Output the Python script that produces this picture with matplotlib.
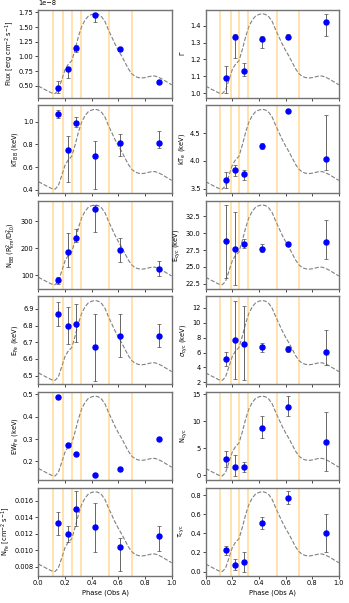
import numpy as np
import matplotlib
matplotlib.use("Agg")
import matplotlib.pyplot as plt

# phase bins (centres) and boundaries
phase = [0.15, 0.22, 0.285, 0.425, 0.615, 0.905]
bounds = [0.108, 0.187, 0.25, 0.32, 0.532, 0.702]

# normalised pulse profile (dashed reference curve)
lc_phase = [0.000, 0.025, 0.050, 0.075, 0.100, 0.125, 0.150, 0.175, 0.200, 0.225,
            0.250, 0.275, 0.300, 0.325, 0.350, 0.375, 0.400, 0.425, 0.450, 0.475,
            0.500, 0.525, 0.550, 0.575, 0.600, 0.625, 0.650, 0.675, 0.700, 0.725,
            0.750, 0.775, 0.800, 0.825, 0.850, 0.875, 0.900, 0.925, 0.950, 0.975, 1.000]
lc_rate = [0.094, 0.072, 0.050, 0.028, 0.008, 0.000, 0.045, 0.170, 0.300, 0.370,
           0.410, 0.550, 0.710, 0.840, 0.920, 0.970, 0.990, 1.000, 0.990, 0.960,
           0.900, 0.800, 0.710, 0.620, 0.540, 0.470, 0.390, 0.310, 0.250, 0.215,
           0.200, 0.195, 0.200, 0.210, 0.220, 0.220, 0.205, 0.185, 0.160, 0.135, 0.110]

# parameters: value, lower bound, upper bound
flux = [0.47e-8, 0.79e-8, 1.145e-8, 1.70e-8, 1.12e-8, 0.57e-8]
flux_lo = [0.375e-8, 0.63e-8, 1.08e-8, 1.58e-8, 1.10e-8, 0.55e-8]
flux_hi = [0.585e-8, 0.81e-8, 1.19e-8, 1.72e-8, 1.14e-8, 0.59e-8]

gamma = [1.09, 1.33, 1.13, 1.32, 1.33, 1.42]
gamma_lo = [1.00, 1.21, 1.10, 1.27, 1.32, 1.34]
gamma_hi = [1.16, 1.35, 1.18, 1.34, 1.35, 1.47]

kt_bb = [1.07, 0.75, 0.99, 0.70, 0.81, 0.81]
kt_bb_lo = [1.03, 0.466, 0.95, 0.405, 0.70, 0.765]
kt_bb_hi = [1.105, 0.87, 1.04, 0.83, 0.89, 0.92]

kt_e = [3.65, 3.84, 3.765, 4.265, 4.90, 4.04]
kt_e_lo = [3.505, 3.735, 3.66, 4.205, 4.90, 3.84]
kt_e_hi = [3.795, 3.93, 3.84, 4.33, 4.90, 4.825]

n_bb = [81, 186, 239, 347, 194, 123]
n_bb_lo = [67, 131, 225, 260, 150, 98]
n_bb_hi = [94, 256, 270, 362, 237, 154]

e_cyc = [28.8, 27.7, 28.4, 27.7, 28.4, 28.65]
e_cyc_lo = [23.3, 22.35, 27.75, 27.25, 28.05, 26.1]
e_cyc_hi = [34.25, 33.1, 29.15, 28.4, 28.7, 32.0]

e_fe = [6.87, 6.80, 6.81, 6.67, 6.74, 6.74]
e_fe_lo = [6.80, 6.69, 6.70, 6.47, 6.61, 6.67]
e_fe_hi = [6.94, 6.91, 6.93, 6.87, 6.87, 6.81]

sig_cyc = [5.2, 7.7, 7.2, 6.7, 6.5, 6.1]
sig_cyc_lo = [4.2, 2.5, 2.27, 6.05, 6.1, 4.3]
sig_cyc_hi = [6.14, 12.9, 12.2, 7.3, 6.9, 9.0]

ew_fe = [0.487, 0.273, 0.234, 0.137, 0.164, 0.300]

n_cyc = [2.96, 1.48, 1.6, 8.64, 12.65, 6.2]
n_cyc_lo = [1.55, -0.1, 0.55, 6.97, 11.0, 0.86]
n_cyc_hi = [4.4, 3.8, 2.5, 10.9, 14.6, 11.6]

n_fe = [0.0133, 0.0120, 0.0150, 0.0128, 0.0104, 0.0117]
n_fe_lo = [0.0119, 0.0110, 0.0129, 0.0098, 0.0074, 0.0099]
n_fe_hi = [0.01465, 0.0130, 0.0172, 0.0158, 0.0115, 0.0129]

tau_cyc = [0.221, 0.07, 0.10, 0.505, 0.768, 0.40]
tau_cyc_lo = [0.172, 0.021, 0.0, 0.446, 0.709, 0.20]
tau_cyc_hi = [0.267, 0.13, 0.20, 0.568, 0.84, 0.60]

panels = [
    (flux, flux_lo, flux_hi, r"Flux [erg cm$^{-2}$ s$^{-1}$]", (0.30e-8, 1.795e-8),
     [0.5e-8, 0.75e-8, 1.0e-8, 1.25e-8, 1.5e-8, 1.75e-8]),
    (gamma, gamma_lo, gamma_hi, r"$\Gamma$", (0.975, 1.494), [1.0, 1.1, 1.2, 1.3, 1.4]),
    (kt_bb, kt_bb_lo, kt_bb_hi, r"kT$_{\rm BB}$ (keV)", (0.37, 1.145), [0.4, 0.6, 0.8, 1.0]),
    (kt_e, kt_e_lo, kt_e_hi, r"kT$_{\rm e}$ (keV)", (3.42, 5.0), [3.5, 4.0, 4.5]),
    (n_bb, n_bb_lo, n_bb_hi, r"N$_{\rm BB}$ (R$^2_{\rm km}$/D$^2_{10}$)", (50, 376), [100, 200, 300]),
    (e_cyc, e_cyc_lo, e_cyc_hi, r"E$_{\rm cyc}$ (keV)", (21.75, 34.8), [22.5, 25.0, 27.5, 30.0, 32.5]),
    (e_fe, e_fe_lo, e_fe_hi, r"E$_{\rm Fe}$ (keV)", (6.448, 6.974), [6.5, 6.6, 6.7, 6.8, 6.9]),
    (sig_cyc, sig_cyc_lo, sig_cyc_hi, r"$\sigma_{\rm cyc}$ (keV)", (1.73, 13.55), [2, 4, 6, 8, 10, 12]),
    (ew_fe, None, None, r"EW$_{\rm Fe}$ (keV)", (0.116, 0.511), [0.2, 0.3, 0.4, 0.5]),
    (n_cyc, n_cyc_lo, n_cyc_hi, r"N$_{\rm cyc}$", (-0.86, 15.37), [0, 5, 10, 15]),
    (n_fe, n_fe_lo, n_fe_hi, r"N$_{\rm Fe}$ [cm$^{-2}$ s$^{-1}$]", (0.0069, 0.01763),
     [0.008, 0.010, 0.012, 0.014, 0.016]),
    (tau_cyc, tau_cyc_lo, tau_cyc_hi, r"$\tau_{\rm cyc}$", (-0.042, 0.88), [0.0, 0.2, 0.4, 0.6, 0.8]),
]

fs = 4.8
fig, axes = plt.subplots(6, 2, figsize=(3.49, 6.03), dpi=100, sharex=True)
fig.subplots_adjust(left=0.11, right=0.971, top=0.984, bottom=0.0455,
                    wspace=0.255, hspace=0.087)

for ax, (vals, lo, hi, label, ylim, yticks) in zip(axes.flat, panels):
    tw = ax.twinx()
    tw.plot(lc_phase, lc_rate, ls="--", color="gray", lw=0.8)
    tw.set_yticks([])
    for s in tw.spines.values():
        s.set_visible(False)
    ax.set_zorder(tw.get_zorder() + 1)
    ax.patch.set_visible(False)

    for b in bounds:
        ax.axvline(b, color="orange", alpha=0.35, lw=1.3, zorder=1)

    v = np.array(vals)
    if lo is not None:
        yerr = [v - np.array(lo), np.array(hi) - v]
        ax.errorbar(phase, v, yerr=yerr, fmt="o", color="blue", ms=3.6,
                    ecolor="0.3", elinewidth=0.6, capsize=1.2, capthick=0.5, zorder=3)
    else:
        ax.plot(phase, v, "o", color="blue", ms=3.6, zorder=3)

    ax.set_xlim(0, 1)
    ax.set_yticks(yticks)
    ax.set_ylim(*ylim)
    ax.set_ylabel(label, fontsize=fs, labelpad=2)
    ax.tick_params(labelsize=fs, length=2, width=0.5, pad=1.5)
    ax.yaxis.get_offset_text().set_fontsize(fs)
    for s in ax.spines.values():
        s.set_color("0.45")
        s.set_linewidth(1.0)

for ax in axes[-1]:
    ax.set_xlabel("Phase (Obs A)", fontsize=fs, labelpad=2)
    ax.set_xticks([0.0, 0.2, 0.4, 0.6, 0.8, 1.0])

plt.savefig("out.png", dpi=100)
